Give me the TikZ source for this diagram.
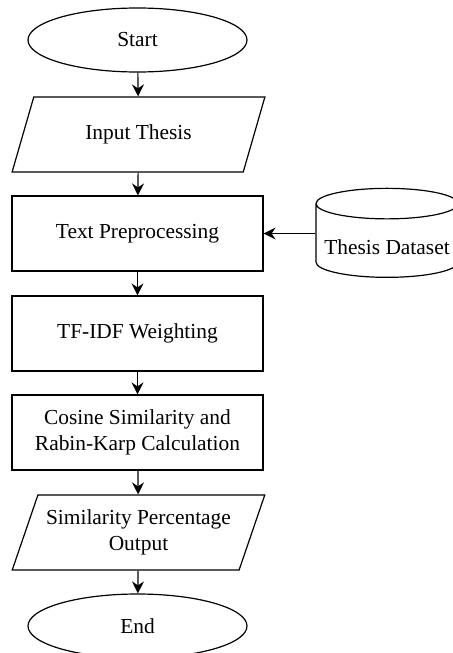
\documentclass[tikz,border=0pt]{standalone}
\usepackage{fontspec}
\setmainfont{Liberation Serif}
\usepackage{tikz}
\usetikzlibrary{arrows.meta,shapes.geometric}
\tikzset{
	terminal/.style={draw, ellipse, line width=0.6pt, minimum width=109.5pt, minimum height=32pt, inner sep=0pt},
	inout/.style={draw, trapezium, trapezium left angle=64, trapezium right angle=116, trapezium stretches, line width=0.6pt, minimum width=126.5pt, minimum height=37.5pt, inner sep=1pt, align=center},
	process/.style={draw, rectangle, line width=0.6pt, minimum width=125.5pt, minimum height=37.5pt, align=center},
	database/.style={draw, cylinder, shape border rotate=90, aspect=0.22, line width=0.6pt, minimum width=71pt, minimum height=44.5pt, text height=10.7pt, text depth=0pt},
	flow/.style={line width=0.6pt, -{Stealth[length=6pt, width=6pt, inset=2pt]}}
}

\begin{document}
\begin{tikzpicture}[x=0.5pt, y=-0.5pt, font=\fontsize{10.7}{13}\selectfont]
			%%%%% START %%%%%
			
			\clip (0, 0) rectangle (453, 653);
			
			\node[terminal] (start) at (137.5, 40) {Start};
			\node[inout] (input) at (138.5, 134.5) {Input Thesis};
			
			\node[process] (prep) at (137.5, 233.5) {Text Preprocessing};
			\node[database] (data) at (387, 244) {Thesis Dataset};
			
			\node[process] (tfidf) at (137.5, 333.5) {TF-IDF Weighting};
			\node[process] (calc) at (137.5, 432.5) {Cosine Similarity and\\Rabin-Karp Calculation};
			\node[inout] (output) at (138.5, 532.5) {Similarity Percentage\\Output};
			
			\node[terminal] (end) at (137.5, 626) {End};
			
			\draw[flow] (start) -- (input);
			\draw[flow] (input) -- (prep);
			\draw[flow] (data.west |- prep) -- (prep);
			\draw[flow] (prep) -- (tfidf);
			\draw[flow] (tfidf) -- (calc);
			\draw[flow] (calc) -- (output);
			\draw[flow] (output) -- (end);
			
			%%%%% END %%%%%
		\end{tikzpicture}
\end{document}
